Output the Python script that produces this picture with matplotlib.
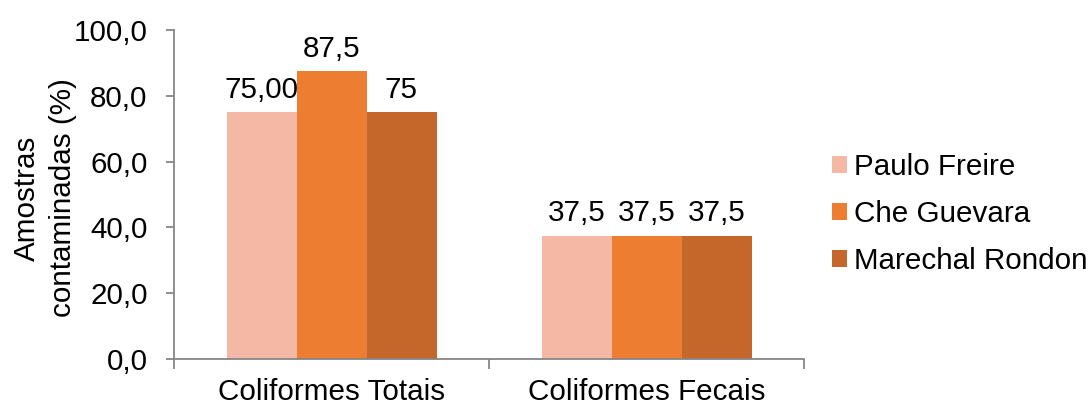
import matplotlib
matplotlib.use("Agg")
import matplotlib.pyplot as plt
import numpy as np

categories = ["Coliformes Totais", "Coliformes Fecais"]
series_names = ["Paulo Freire", "Che Guevara", "Marechal Rondon"]
values = {
    "Paulo Freire": [75.0, 37.5],
    "Che Guevara": [87.5, 37.5],
    "Marechal Rondon": [75.0, 37.5],
}
labels = {
    "Paulo Freire": ["75,00", "37,5"],
    "Che Guevara": ["87,5", "37,5"],
    "Marechal Rondon": ["75", "37,5"],
}
colors = ["#F4B8A5", "#ED7D31", "#C5662A"]
yticks = [0, 20, 40, 60, 80, 100]
ytick_labels = ["0,0", "20,0", "40,0", "60,0", "80,0", "100,0"]

plt.rcParams['font.family'] = ['Liberation Sans', 'DejaVu Sans']
fs = 21.3

fig = plt.figure(figsize=(10.88, 4.05), dpi=100)
ax = fig.add_axes([174/1088, 1-359/405, (804-174)/1088, (359-30)/405])

x = np.arange(len(categories))
w = 2/9
for i, name in enumerate(series_names):
    pos = x + (i - 1) * w
    bars = ax.bar(pos, values[name], width=w, color=colors[i], label=name)
    for b, lab in zip(bars, labels[name]):
        ax.annotate(lab, (b.get_x() + b.get_width()/2, b.get_height()),
                    xytext=(0, 6), textcoords="offset points",
                    ha="center", va="bottom", fontsize=fs)

ax.set_xlim(-0.5, 1.5)
ax.set_ylim(0, 100)
ax.set_yticks(yticks)
ax.set_yticklabels(ytick_labels, fontsize=fs)
ax.set_xticks(x)
ax.set_xticklabels(categories, fontsize=fs)
ax.tick_params(axis='x', length=0, pad=14)
ax.set_xticks([-0.5, 0.5, 1.5], minor=True)
ax.tick_params(axis='x', which='minor', length=7, color='#868686', width=1.3)
ax.tick_params(axis='y', length=6, color='#868686', width=1.3, pad=13)
for s in ['top', 'right']:
    ax.spines[s].set_visible(False)
for s in ['left', 'bottom']:
    ax.spines[s].set_color('#868686')
    ax.spines[s].set_linewidth(1.3)

fig.text(45/1088, 1-198/405, "Amostras\ncontaminadas (%)", rotation=90,
         ha="center", va="center", fontsize=fs, linespacing=1.4)

leg = fig.legend(loc="upper left", bbox_to_anchor=(820/1088, 1-141/405),
                 frameon=False, fontsize=fs, handlelength=0.5, handleheight=0.5,
                 handletextpad=0.25, labelspacing=0.65, borderaxespad=0)

fig.savefig("out.png", dpi=100)
